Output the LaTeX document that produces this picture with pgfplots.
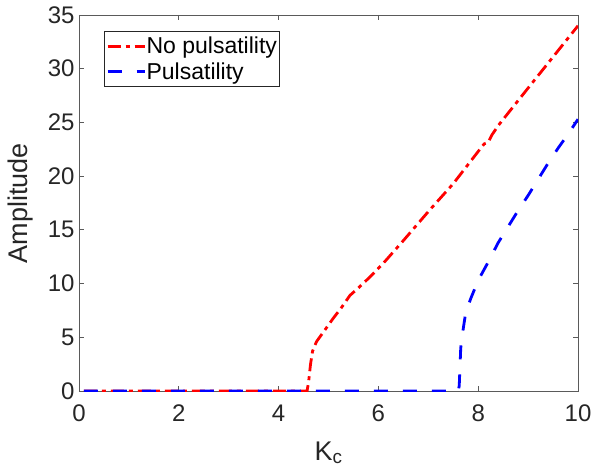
\documentclass[border=0pt]{standalone}
\usepackage{pgfplots}
\pgfplotsset{compat=1.18}
\usepackage{fontspec}
\setmainfont{Liberation Sans}
\definecolor{axgray}{RGB}{90,90,90}
\definecolor{txtgray}{RGB}{38,38,38}
\begin{document}
\begin{tikzpicture}
\useasboundingbox (-79bp,-82bp) rectangle (522bp,391bp);
\begin{axis}[
  scale only axis,
  width=499bp, height=376bp,
  xmin=0, xmax=10, ymin=0, ymax=35,
  xtick={0,2,4,6,8,10}, ytick={0,5,10,15,20,25,30,35},
  tick align=inside, tickpos=both,
  major tick length=5bp,
  axis line style={axgray, line width=0.8bp},
  every tick/.style={axgray, line width=0.8bp},
  /pgf/number format/assume math mode=true,
  ticklabel style={font=\fontsize{24bp}{28bp}\selectfont, text=txtgray},
  xticklabel style={yshift=-10bp},
  yticklabel style={xshift=-1bp},
  xlabel={K\textsubscript{c}},
  ylabel={Amplitude},
  label style={font=\fontsize{27bp}{31bp}\selectfont, text=txtgray},
  xlabel style={at={(axis description cs:0.5,0)}, anchor=north, yshift=-47bp},
  ylabel style={at={(axis description cs:0,0.5)}, anchor=south, yshift=42bp},
  legend style={at={(25bp,360bp)}, anchor=north west, draw=txtgray, line width=0.6bp,
    font=\fontsize{23bp}{27bp}\selectfont, inner xsep=2bp, inner ysep=4bp,
    row sep=3bp, text=black},
  legend cell align=left,
  legend image code/.code={\draw[#1] (0bp,0bp) -- (37bp,0bp);},
  legend style={nodes={inner xsep=0.5bp}},
]
\addplot[red, line width=2.8bp, dash pattern=on 13bp off 5bp on 4bp off 5bp] coordinates {
(0.1,0) (4.57,0) (4.6,0.8) (4.64,2.5) (4.68,3.7) (4.76,4.6) (4.9,5.5) (5.1,6.8) (5.25,7.7) (5.43,8.9) (5.6,9.6) (5.85,10.7) (6.1,11.9) (6.5,14.0) (7.0,16.7) (7.5,19.3) (8.0,22.3) (8.12,23.0) (8.2,23.15) (8.27,23.8) (8.4,24.7) (9.0,28.2) (9.5,31.1) (10,34.0)
};
\addlegendentry{No pulsatility}
\addplot[blue, line width=2.8bp, dash pattern=on 14bp off 15bp] coordinates {
(0.1,0) (7.6,0) (7.62,0.5) (7.65,4.0) (7.7,5.8) (7.75,7.3) (7.85,8.6) (8.0,10.3) (8.2,12.0) (8.4,13.8) (8.6,15.3) (8.8,16.8) (9.0,18.2) (9.2,19.7) (9.4,21.2) (9.6,22.6) (9.8,23.9) (10,25.3)
};
\addlegendentry{Pulsatility}
\end{axis}
\end{tikzpicture}
\end{document}
